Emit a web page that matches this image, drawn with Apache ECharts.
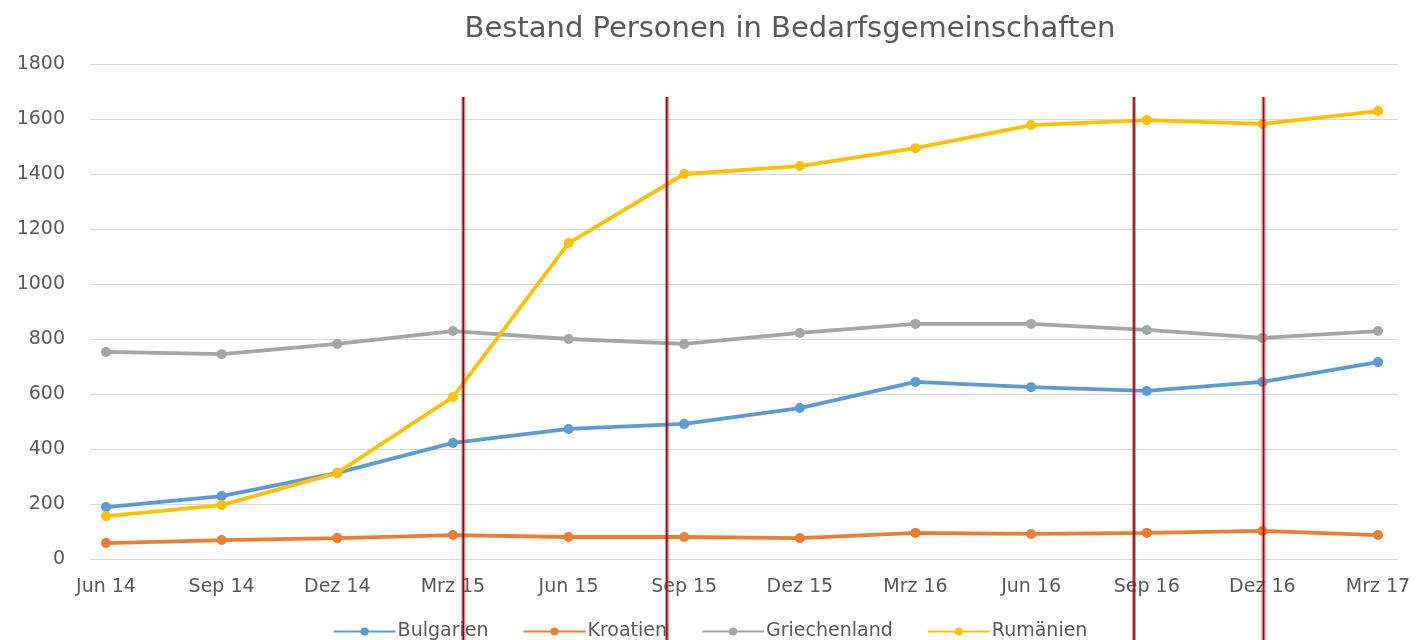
<!DOCTYPE html>
<html><head><meta charset="utf-8">
<script src="https://cdn.jsdelivr.net/npm/echarts@6/dist/echarts.min.js"></script>
<style>html,body{margin:0;padding:0;background:#fff}#c{width:1420px;height:640px}</style>
</head><body><div id="c"></div>
<script>
const categories = ['Jun 14','Sep 14','Dez 14','Mrz 15','Jun 15','Sep 15','Dez 15','Mrz 16','Jun 16','Sep 16','Dez 16','Mrz 17'];
const bulgarien = [189,229,313,422,473,491,549,644,625,611,644,716];
const kroatien = [58,69,76,87,80,80,76,95,91,95,102,87];
const griechenland = [753,745,782,829,800,782,822,855,855,833,804,829];
const rumaenien = [156,196,313,589,1149,1400,1429,1494,1578,1596,1582,1629];
const yTicks = [0,200,400,600,800,1000,1200,1400,1600,1800];
// annotation lines, position in category units
const markerPositions = [3.09, 4.85, 8.89, 10.01];
const markerColors = ['#5a1a1a','#5a1a1a','#5a1a1a','#8a1515'];

const chart = echarts.init(document.getElementById('c'));
const font = "'DejaVu Sans', sans-serif";
const txt = '#595959';
function mkLine(name, data, color) {
  return {name, type:'line', xAxisIndex:1, yAxisIndex:1, data, symbol:'circle', symbolSize:10,
    lineStyle:{color, width:3.8}, itemStyle:{color}, z:3};
}
chart.setOption({
  animation:false,
  title:{text:'Bestand Personen in Bedarfsgemeinschaften', left:785, textAlign:'center', top:10,
    textStyle:{fontFamily:font, fontSize:29, fontWeight:'normal', color:txt}},
  legend:{top:617, left:'center', itemWidth:62, itemHeight:10, itemGap:34,
    textStyle:{fontFamily:font, fontSize:19, color:txt, padding:[0,0,0,-3]}},
  grid:[
    {left:90, right:22, top:64, bottom:81},
    {left:106, right:42, top:64, bottom:81}
  ],
  xAxis:[
    {gridIndex:0, type:'value', min:0, max:1, show:false},
    {gridIndex:1, type:'category', data:categories, boundaryGap:false,
      axisLine:{show:false}, axisTick:{show:false},
      axisLabel:{fontFamily:font, fontSize:19, color:txt, margin:19}},
    {gridIndex:1, type:'value', min:0, max:categories.length-1, show:false}
  ],
  yAxis:[
    {gridIndex:0, type:'value', min:yTicks[0], max:yTicks[yTicks.length-1], interval:200,
      axisLine:{show:false}, axisTick:{show:false},
      axisLabel:{fontFamily:font, fontSize:19, color:txt, margin:25, formatter:v=>String(v)},
      splitLine:{lineStyle:{color:'#d9d9d9', width:1}}},
    {gridIndex:1, type:'value', min:yTicks[0], max:yTicks[yTicks.length-1], interval:200, show:false,
      splitLine:{show:false}}
  ],
  series:[
    mkLine('Bulgarien', bulgarien, '#5b9bd5'),
    mkLine('Kroatien', kroatien, '#ed7d31'),
    mkLine('Griechenland', griechenland, '#a5a5a5'),
    mkLine('Rumänien', rumaenien, '#ffc000'),
    {type:'custom', xAxisIndex:2, yAxisIndex:1, clip:false, z:10, silent:true,
      data: markerPositions.map((p,i)=>[p,i]),
      renderItem:function(params, api){
        const x = api.value(0), i = api.value(1);
        const top = api.coord([x, 1680]);
        const bot = api.coord([x, -320]);
        return {type:'group', children:[
          {type:'line', shape:{x1:top[0], y1:top[1], x2:bot[0], y2:bot[1]},
            style:{stroke:'rgba(255,40,40,0.55)', lineWidth:4}},
          {type:'line', shape:{x1:top[0], y1:top[1], x2:bot[0], y2:bot[1]},
            style:{stroke:markerColors[i], lineWidth:1.5}}
        ]};
      }}
  ]
});
</script></body></html>
